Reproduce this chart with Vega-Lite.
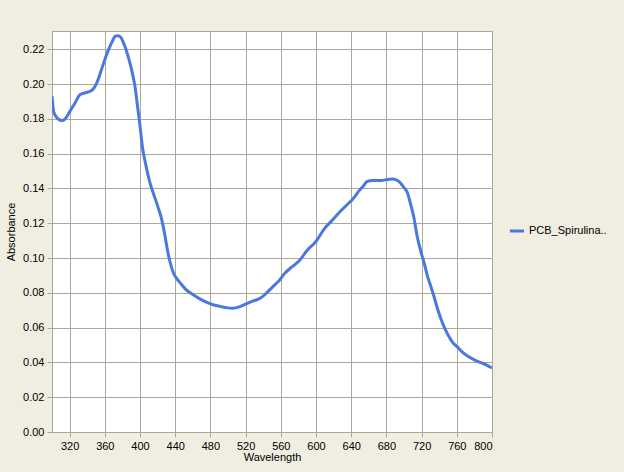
{
  "$schema": "https://vega.github.io/schema/vega-lite/v6.json",
  "width": 440,
  "height": 401,
  "autosize": {"type": "none"},
  "padding": {"left": 52, "top": 31, "right": 132, "bottom": 40},
  "background": "#F0EDE1",
  "view": {"fill": "#FFFFFF", "stroke": "#ACA899", "strokeWidth": 1},
  "config": {
    "font": "Liberation Sans",
    "axis": {
      "labelFont": "Liberation Sans",
      "labelFontSize": 11,
      "labelColor": "#000000",
      "titleFont": "Liberation Sans",
      "titleFontSize": 11,
      "titleFontWeight": "normal",
      "titleColor": "#000000",
      "gridColor": "#ACA899",
      "gridOpacity": 1,
      "gridWidth": 1,
      "domainColor": "#ACA899",
      "tickColor": "#ACA899",
      "tickSize": 5,
      "labelPadding": 3
    },
    "legend": {
      "labelFont": "Liberation Sans",
      "labelFontSize": 11,
      "labelColor": "#000000"
    }
  },
  "data": {
    "values": [
      {"wavelength": 300, "absorbance": 0.193, "series": "PCB_Spirulina.."},
      {"wavelength": 302, "absorbance": 0.184, "series": "PCB_Spirulina.."},
      {"wavelength": 305, "absorbance": 0.181, "series": "PCB_Spirulina.."},
      {"wavelength": 311, "absorbance": 0.179, "series": "PCB_Spirulina.."},
      {"wavelength": 315, "absorbance": 0.180, "series": "PCB_Spirulina.."},
      {"wavelength": 320, "absorbance": 0.184, "series": "PCB_Spirulina.."},
      {"wavelength": 326, "absorbance": 0.189, "series": "PCB_Spirulina.."},
      {"wavelength": 332, "absorbance": 0.194, "series": "PCB_Spirulina.."},
      {"wavelength": 338, "absorbance": 0.195, "series": "PCB_Spirulina.."},
      {"wavelength": 344, "absorbance": 0.196, "series": "PCB_Spirulina.."},
      {"wavelength": 348, "absorbance": 0.198, "series": "PCB_Spirulina.."},
      {"wavelength": 352, "absorbance": 0.202, "series": "PCB_Spirulina.."},
      {"wavelength": 356, "absorbance": 0.208, "series": "PCB_Spirulina.."},
      {"wavelength": 360, "absorbance": 0.214, "series": "PCB_Spirulina.."},
      {"wavelength": 364, "absorbance": 0.2195, "series": "PCB_Spirulina.."},
      {"wavelength": 368, "absorbance": 0.224, "series": "PCB_Spirulina.."},
      {"wavelength": 372, "absorbance": 0.2275, "series": "PCB_Spirulina.."},
      {"wavelength": 375, "absorbance": 0.2278, "series": "PCB_Spirulina.."},
      {"wavelength": 378, "absorbance": 0.227, "series": "PCB_Spirulina.."},
      {"wavelength": 381, "absorbance": 0.224, "series": "PCB_Spirulina.."},
      {"wavelength": 384, "absorbance": 0.220, "series": "PCB_Spirulina.."},
      {"wavelength": 387, "absorbance": 0.215, "series": "PCB_Spirulina.."},
      {"wavelength": 391, "absorbance": 0.207, "series": "PCB_Spirulina.."},
      {"wavelength": 394.5, "absorbance": 0.198, "series": "PCB_Spirulina.."},
      {"wavelength": 397, "absorbance": 0.188, "series": "PCB_Spirulina.."},
      {"wavelength": 400, "absorbance": 0.176, "series": "PCB_Spirulina.."},
      {"wavelength": 403, "absorbance": 0.163, "series": "PCB_Spirulina.."},
      {"wavelength": 406, "absorbance": 0.155, "series": "PCB_Spirulina.."},
      {"wavelength": 409, "absorbance": 0.148, "series": "PCB_Spirulina.."},
      {"wavelength": 412, "absorbance": 0.142, "series": "PCB_Spirulina.."},
      {"wavelength": 416, "absorbance": 0.136, "series": "PCB_Spirulina.."},
      {"wavelength": 420, "absorbance": 0.130, "series": "PCB_Spirulina.."},
      {"wavelength": 424, "absorbance": 0.1235, "series": "PCB_Spirulina.."},
      {"wavelength": 428, "absorbance": 0.114, "series": "PCB_Spirulina.."},
      {"wavelength": 431, "absorbance": 0.105, "series": "PCB_Spirulina.."},
      {"wavelength": 434, "absorbance": 0.098, "series": "PCB_Spirulina.."},
      {"wavelength": 438, "absorbance": 0.0914, "series": "PCB_Spirulina.."},
      {"wavelength": 442, "absorbance": 0.088, "series": "PCB_Spirulina.."},
      {"wavelength": 446, "absorbance": 0.0855, "series": "PCB_Spirulina.."},
      {"wavelength": 452, "absorbance": 0.082, "series": "PCB_Spirulina.."},
      {"wavelength": 460, "absorbance": 0.079, "series": "PCB_Spirulina.."},
      {"wavelength": 468, "absorbance": 0.0765, "series": "PCB_Spirulina.."},
      {"wavelength": 476, "absorbance": 0.0745, "series": "PCB_Spirulina.."},
      {"wavelength": 484, "absorbance": 0.073, "series": "PCB_Spirulina.."},
      {"wavelength": 491, "absorbance": 0.0722, "series": "PCB_Spirulina.."},
      {"wavelength": 498, "absorbance": 0.0715, "series": "PCB_Spirulina.."},
      {"wavelength": 506, "absorbance": 0.0712, "series": "PCB_Spirulina.."},
      {"wavelength": 512, "absorbance": 0.0718, "series": "PCB_Spirulina.."},
      {"wavelength": 520, "absorbance": 0.0735, "series": "PCB_Spirulina.."},
      {"wavelength": 528, "absorbance": 0.0752, "series": "PCB_Spirulina.."},
      {"wavelength": 537, "absorbance": 0.077, "series": "PCB_Spirulina.."},
      {"wavelength": 545, "absorbance": 0.0805, "series": "PCB_Spirulina.."},
      {"wavelength": 552, "absorbance": 0.084, "series": "PCB_Spirulina.."},
      {"wavelength": 558, "absorbance": 0.087, "series": "PCB_Spirulina.."},
      {"wavelength": 565, "absorbance": 0.0915, "series": "PCB_Spirulina.."},
      {"wavelength": 573, "absorbance": 0.095, "series": "PCB_Spirulina.."},
      {"wavelength": 582, "absorbance": 0.099, "series": "PCB_Spirulina.."},
      {"wavelength": 590, "absorbance": 0.1045, "series": "PCB_Spirulina.."},
      {"wavelength": 600, "absorbance": 0.1095, "series": "PCB_Spirulina.."},
      {"wavelength": 609, "absorbance": 0.1165, "series": "PCB_Spirulina.."},
      {"wavelength": 618, "absorbance": 0.1215, "series": "PCB_Spirulina.."},
      {"wavelength": 627, "absorbance": 0.1265, "series": "PCB_Spirulina.."},
      {"wavelength": 635, "absorbance": 0.1305, "series": "PCB_Spirulina.."},
      {"wavelength": 642, "absorbance": 0.134, "series": "PCB_Spirulina.."},
      {"wavelength": 648, "absorbance": 0.138, "series": "PCB_Spirulina.."},
      {"wavelength": 654, "absorbance": 0.1415, "series": "PCB_Spirulina.."},
      {"wavelength": 658, "absorbance": 0.144, "series": "PCB_Spirulina.."},
      {"wavelength": 665, "absorbance": 0.1445, "series": "PCB_Spirulina.."},
      {"wavelength": 674, "absorbance": 0.1446, "series": "PCB_Spirulina.."},
      {"wavelength": 682, "absorbance": 0.1452, "series": "PCB_Spirulina.."},
      {"wavelength": 687, "absorbance": 0.1454, "series": "PCB_Spirulina.."},
      {"wavelength": 692, "absorbance": 0.1447, "series": "PCB_Spirulina.."},
      {"wavelength": 696, "absorbance": 0.1431, "series": "PCB_Spirulina.."},
      {"wavelength": 700, "absorbance": 0.1405, "series": "PCB_Spirulina.."},
      {"wavelength": 704, "absorbance": 0.1374, "series": "PCB_Spirulina.."},
      {"wavelength": 708, "absorbance": 0.130, "series": "PCB_Spirulina.."},
      {"wavelength": 711, "absorbance": 0.1239, "series": "PCB_Spirulina.."},
      {"wavelength": 715, "absorbance": 0.1124, "series": "PCB_Spirulina.."},
      {"wavelength": 719, "absorbance": 0.104, "series": "PCB_Spirulina.."},
      {"wavelength": 723, "absorbance": 0.097, "series": "PCB_Spirulina.."},
      {"wavelength": 727, "absorbance": 0.089, "series": "PCB_Spirulina.."},
      {"wavelength": 730, "absorbance": 0.0845, "series": "PCB_Spirulina.."},
      {"wavelength": 734, "absorbance": 0.078, "series": "PCB_Spirulina.."},
      {"wavelength": 738, "absorbance": 0.071, "series": "PCB_Spirulina.."},
      {"wavelength": 742, "absorbance": 0.065, "series": "PCB_Spirulina.."},
      {"wavelength": 747, "absorbance": 0.0588, "series": "PCB_Spirulina.."},
      {"wavelength": 752, "absorbance": 0.054, "series": "PCB_Spirulina.."},
      {"wavelength": 756, "absorbance": 0.051, "series": "PCB_Spirulina.."},
      {"wavelength": 760, "absorbance": 0.0492, "series": "PCB_Spirulina.."},
      {"wavelength": 766, "absorbance": 0.046, "series": "PCB_Spirulina.."},
      {"wavelength": 773, "absorbance": 0.0434, "series": "PCB_Spirulina.."},
      {"wavelength": 780, "absorbance": 0.0415, "series": "PCB_Spirulina.."},
      {"wavelength": 788, "absorbance": 0.0397, "series": "PCB_Spirulina.."},
      {"wavelength": 794, "absorbance": 0.0385, "series": "PCB_Spirulina.."},
      {"wavelength": 800, "absorbance": 0.0368, "series": "PCB_Spirulina.."}
    ]
  },
  "mark": {"type": "line", "strokeWidth": 3, "interpolate": "monotone", "clip": true},
  "encoding": {
    "x": {
      "field": "wavelength",
      "type": "quantitative",
      "scale": {"domain": [300, 800], "nice": false, "zero": false},
      "axis": {
        "title": "Wavelength",
        "values": [320, 360, 400, 440, 480, 520, 560, 600, 640, 680, 720, 760, 800],
        "titlePadding": 0
      }
    },
    "y": {
      "field": "absorbance",
      "type": "quantitative",
      "scale": {"domain": [0, 0.2305], "nice": false},
      "axis": {
        "title": "Absorbance",
        "values": [0, 0.02, 0.04, 0.06, 0.08, 0.1, 0.12, 0.14, 0.16, 0.18, 0.2, 0.22],
        "format": ".2f",
        "titlePadding": 6
      }
    },
    "color": {
      "field": "series",
      "type": "nominal",
      "scale": {"range": ["#4A78DE"]},
      "legend": {
        "title": null,
        "orient": "none",
        "legendX": 456,
        "legendY": 191,
        "symbolType": "stroke",
        "symbolStrokeWidth": 3,
        "symbolSize": 200,
        "labelOffset": 3
      }
    }
  }
}
